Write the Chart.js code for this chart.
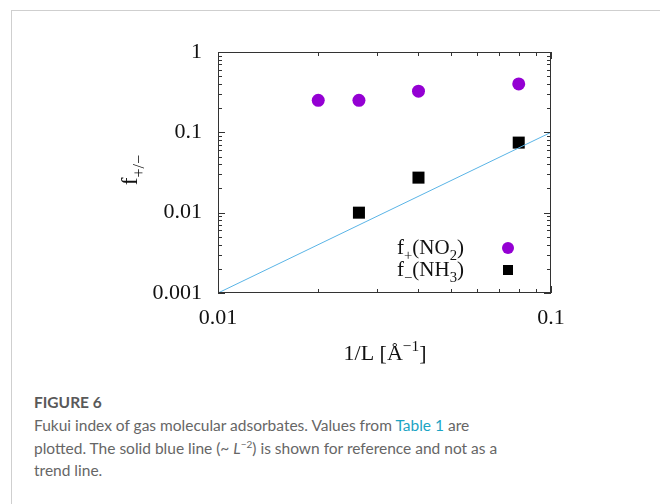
<!DOCTYPE html>
<html>
<head>
<meta charset="utf-8">
<script src="https://cdn.jsdelivr.net/npm/chart.js@4"></script>
<style>
  body { margin: 0; background: #fff; width: 660px; height: 504px; overflow: hidden; position: relative; }
  #frame { position: absolute; left: 11px; top: 10px; right: -2px; bottom: -2px; border-left: 1.5px solid #cfcfcf; border-top: 1.5px solid #cfcfcf; }
  #chart { position: absolute; left: 0; top: 0; }
  .cap { position: absolute; left: 34px; font-family: Lato, "Open Sans", sans-serif; color: #666; }
  #figno { top: 393px; font-size: 15.5px; font-weight: bold; color: #595959; }
  #captext { top: 414px; font-size: 15.5px; line-height: 22.5px; width: 620px; }
  #captext a { color: #1ba4c4; text-decoration: none; }
  #captext sup { font-size: 10px; line-height: 0; }
</style>
</head>
<body>
<div id="frame"></div>
<canvas id="chart" width="660" height="380"></canvas>
<div class="cap" id="figno">FIGURE 6</div>
<div class="cap" id="captext">Fukui index of gas molecular adsorbates. Values from <a>Table 1</a> are<br>plotted. The solid blue line (~ <i>L</i><sup>−2</sup>) is shown for reference and not as a<br>trend line.</div>
<script>
// data
const no2X = [0.02, 0.0265, 0.04, 0.08];
const no2Y = [0.25, 0.25, 0.325, 0.40];
const nh3X = [0.0265, 0.04, 0.08];
const nh3Y = [0.010, 0.0273, 0.0745];
const refX = [0.01, 0.1];
const refY = [0.001, 0.1];
const xTicks = [0.01, 0.1];
const yTicks = [0.001, 0.01, 0.1, 1];

const serif = '"Liberation Serif", "DejaVu Serif", serif';

function pts(xs, ys) { return xs.map((x, i) => ({x: x, y: ys[i]})); }

// text with sub/superscripts
function richWidth(ctx, parts, size) {
  let w = 0;
  parts.forEach(p => {
    ctx.font = (p.sub || p.sup ? size * 0.7 : size) + 'px ' + serif;
    w += ctx.measureText(p.t).width;
  });
  return w;
}
function drawRich(ctx, parts, x, y, size, align) {
  let w = richWidth(ctx, parts, size);
  let cx = align === 'right' ? x - w : align === 'center' ? x - w / 2 : x;
  ctx.textAlign = 'left';
  ctx.textBaseline = 'alphabetic';
  parts.forEach(p => {
    let s = p.sub || p.sup ? size * 0.7 : size;
    ctx.font = s + 'px ' + serif;
    let dy = p.sub ? size * 0.3 : p.sup ? -size * 0.42 : 0;
    ctx.fillText(p.t, cx, y + dy);
    cx += ctx.measureText(p.t).width;
  });
}

const decor = {
  id: 'decor',
  afterDatasetsDraw(chart) {
    const ctx = chart.ctx, a = chart.chartArea;
    const xs = chart.scales.x, ys = chart.scales.y;
    ctx.save();
    ctx.strokeStyle = '#333';
    ctx.lineWidth = 1;
    ctx.strokeRect(a.left + 0.5, a.top + 0.5, a.right - a.left - 1, a.bottom - a.top - 1);
    ctx.beginPath();
    // inward ticks on all four sides
    [0.01].forEach(d => {
      for (let k = 1; k <= 10; k++) {
        let v = d * k, px = Math.round(xs.getPixelForValue(v)) + 0.5;
        let len = (k === 1 || k === 10) ? 7 : 4;
        ctx.moveTo(px, a.bottom); ctx.lineTo(px, a.bottom - len);
        ctx.moveTo(px, a.top); ctx.lineTo(px, a.top + len);
      }
    });
    [0.001, 0.01, 0.1].forEach(d => {
      for (let k = 1; k <= 10; k++) {
        let v = d * k, py = Math.round(ys.getPixelForValue(v)) + 0.5;
        let len = (k === 1 || k === 10) ? 7 : 4;
        ctx.moveTo(a.left, py); ctx.lineTo(a.left + len, py);
        ctx.moveTo(a.right, py); ctx.lineTo(a.right - len, py);
      }
    });
    ctx.stroke();

    ctx.fillStyle = '#111';
    // legend
    drawRich(ctx, [{t: 'f'}, {t: '+', sub: true}, {t: '(NO'}, {t: '2', sub: true}, {t: ')'}], 464, 254, 21, 'right');
    drawRich(ctx, [{t: 'f'}, {t: '−', sub: true}, {t: '(NH'}, {t: '3', sub: true}, {t: ')'}], 464, 276, 21, 'right');
    ctx.fillStyle = '#9400d3';
    ctx.beginPath(); ctx.arc(508, 248, 6, 0, Math.PI * 2); ctx.fill();
    ctx.fillStyle = '#000';
    ctx.fillRect(503, 265, 10, 10);

    // axis titles
    ctx.fillStyle = '#111';
    drawRich(ctx, [{t: '1/L ['}, {t: 'Å'}, {t: '−1', sup: true}, {t: ']'}], 385, 360, 22, 'center');
    ctx.translate(137, 170);
    ctx.rotate(-Math.PI / 2);
    drawRich(ctx, [{t: 'f'}, {t: '+/−', sub: true}], 0, 0, 23, 'center');
    ctx.restore();
  }
};

new Chart(document.getElementById('chart'), {
  type: 'scatter',
  data: {
    datasets: [
      {
        label: 'ref',
        data: pts(refX, refY),
        showLine: true,
        borderColor: '#5ab4e6',
        borderWidth: 1,
        pointRadius: 0
      },
      {
        label: 'f+(NO2)',
        data: pts(no2X, no2Y),
        backgroundColor: '#9400d3',
        borderWidth: 0,
        pointRadius: 6.5,
        pointStyle: 'circle'
      },
      {
        label: 'f-(NH3)',
        data: pts(nh3X, nh3Y),
        backgroundColor: '#000',
        borderWidth: 0,
        pointRadius: 8.5,
        pointStyle: 'rect'
      }
    ]
  },
  options: {
    responsive: false,
    animation: false,
    layout: { padding: { top: 52, right: 109, left: 0, bottom: 0 } },
    plugins: { legend: { display: false }, tooltip: { enabled: false } },
    scales: {
      x: {
        type: 'logarithmic',
        min: 0.01, max: 0.1,
        grid: { display: false, drawTicks: false },
        border: { display: false },
        afterBuildTicks: s => { s.ticks = xTicks.map(v => ({value: v})); },
        afterFit: s => { s.height = 87; },
        ticks: { autoSkip: false, maxRotation: 0, padding: 12, color: '#111', font: { family: serif, size: 22 },
                 callback: v => String(v) }
      },
      y: {
        type: 'logarithmic',
        min: 0.001, max: 1,
        grid: { display: false, drawTicks: false },
        border: { display: false },
        afterBuildTicks: s => { s.ticks = yTicks.map(v => ({value: v})); },
        afterFit: s => { s.width = 218; },
        ticks: { autoSkip: false, padding: 16, color: '#111', font: { family: serif, size: 22 },
                 callback: v => String(v) }
      }
    }
  },
  plugins: [decor]
});
</script>
</body>
</html>
